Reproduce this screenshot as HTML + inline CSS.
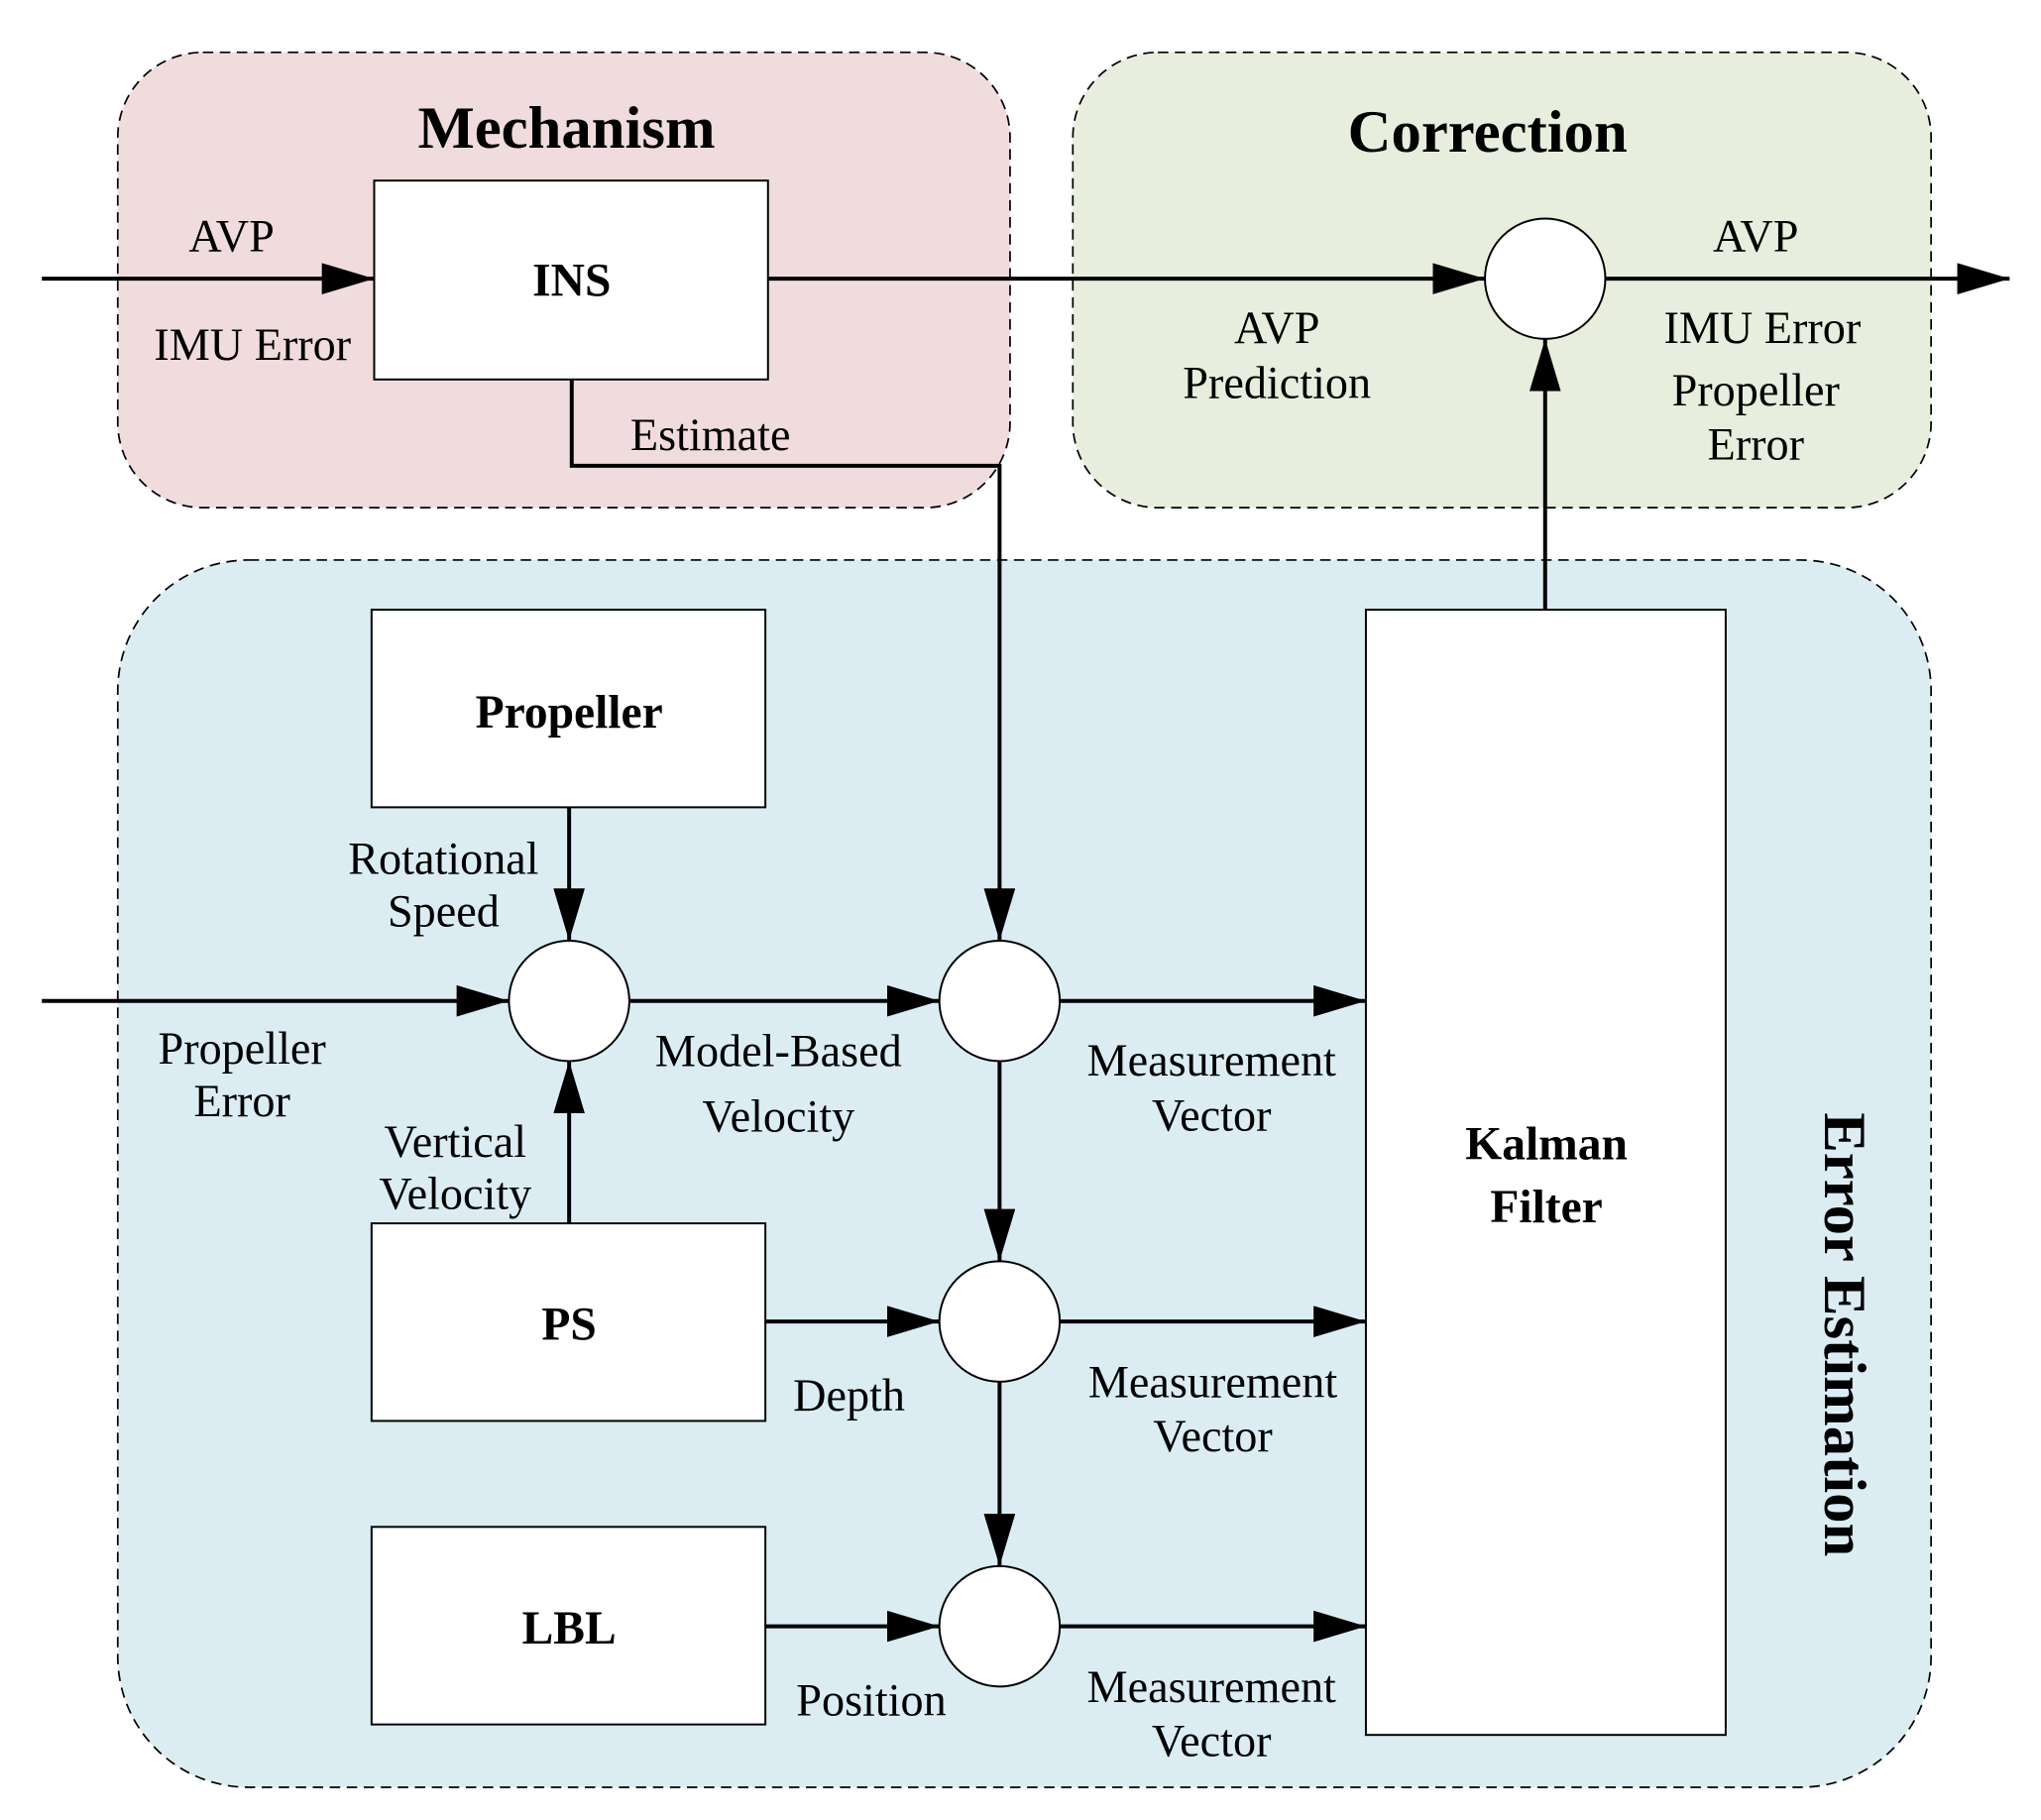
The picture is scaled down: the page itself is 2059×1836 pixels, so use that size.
<!DOCTYPE html>
<html><head><style>html,body{margin:0;padding:0;background:#fff}svg{display:block}</style></head><body>
<svg width="2059" height="1836" viewBox="0 0 1560 1391" xmlns="http://www.w3.org/2000/svg" font-family="Liberation Serif, serif">
<defs><marker id="a" viewBox="0 0 10 10" refX="10" refY="5" markerWidth="10" markerHeight="10" markerUnits="userSpaceOnUse" orient="auto"><path d="M0,0 L10,5 L0,10z" fill="#000"/></marker>
<marker id="b" viewBox="0 0 40 24" refX="40" refY="12" markerWidth="40" markerHeight="24" markerUnits="userSpaceOnUse" orient="auto"><path d="M0,0 L40,12 L0,24z" fill="#000"/></marker></defs>
<g stroke="#000" stroke-width="1.3" stroke-dasharray="8,5">
<rect x="90" y="40" width="682" height="348" rx="65" fill="#f0dcdc"/>
<rect x="820" y="40" width="656" height="348" rx="65" fill="#e8eedd"/>
<rect x="90" y="428" width="1386" height="938" rx="100" fill="#dbedf3"/>
</g>
<g stroke="#000" stroke-width="1.5" fill="#fff">
<rect x="286" y="138" width="301" height="152"/>
<rect x="284" y="466" width="301" height="151"/>
<rect x="284" y="935" width="301" height="151"/>
<rect x="284" y="1167" width="301" height="151"/>
<rect x="1044" y="466" width="275" height="860"/>
<circle cx="1181" cy="213" r="46"/>
<circle cx="435" cy="765" r="46"/>
<circle cx="764" cy="765" r="46"/>
<circle cx="764" cy="1010" r="46"/>
<circle cx="764" cy="1243" r="46"/>
</g>
<g stroke="#000" stroke-width="3" fill="none" marker-end="url(#b)">
<line x1="32" y1="213" x2="286" y2="213"/>
<line x1="587" y1="213" x2="1135" y2="213"/>
<line x1="1227" y1="213" x2="1536" y2="213"/>
<polyline points="437,290 437,356 764,356 764,719"/>
<line x1="435" y1="617" x2="435" y2="719"/>
<line x1="435" y1="935" x2="435" y2="811"/>
<line x1="32" y1="765" x2="389" y2="765"/>
<line x1="481" y1="765" x2="718" y2="765"/>
<line x1="764" y1="811" x2="764" y2="964"/>
<line x1="764" y1="1056" x2="764" y2="1197"/>
<line x1="585" y1="1010" x2="718" y2="1010"/>
<line x1="585" y1="1243" x2="718" y2="1243"/>
<line x1="810" y1="765" x2="1044" y2="765"/>
<line x1="810" y1="1010" x2="1044" y2="1010"/>
<line x1="810" y1="1243" x2="1044" y2="1243"/>
<line x1="1181" y1="466" x2="1181" y2="259"/>
</g>
<g font-weight="bold" text-anchor="middle" font-size="46">
<text x="433" y="113">Mechanism</text>
<text x="1137" y="116">Correction</text>
<text transform="translate(1395,1020) rotate(90)">Error Estimation</text>
</g>
<g font-weight="bold" text-anchor="middle" font-size="36">
<text x="437" y="226">INS</text>
<text x="435" y="556">Propeller</text>
<text x="435" y="1024">PS</text>
<text x="435" y="1256">LBL</text>
<text x="1182" y="886">Kalman</text>
<text x="1182" y="934">Filter</text>
</g>
<g text-anchor="middle" font-size="35">
<text x="177" y="192">AVP</text>
<text x="193" y="275">IMU Error</text>
<text x="543" y="344">Estimate</text>
<text x="976" y="262">AVP</text>
<text x="976" y="304">Prediction</text>
<text x="1342" y="192">AVP</text>
<text x="1347" y="262">IMU Error</text>
<text x="1342" y="310">Propeller</text>
<text x="1342" y="351">Error</text>
<text x="339" y="668">Rotational</text>
<text x="339" y="708">Speed</text>
<text x="185" y="813">Propeller</text>
<text x="185" y="853">Error</text>
<text x="595" y="815">Model-Based</text>
<text x="595" y="865">Velocity</text>
<text x="348" y="884">Vertical</text>
<text x="348" y="924">Velocity</text>
<text x="926" y="822">Measurement</text>
<text x="926" y="864">Vector</text>
<text x="649" y="1078">Depth</text>
<text x="927" y="1068">Measurement</text>
<text x="927" y="1109">Vector</text>
<text x="666" y="1311">Position</text>
<text x="926" y="1301">Measurement</text>
<text x="926" y="1342">Vector</text>
</g>
</svg>
</body></html>
